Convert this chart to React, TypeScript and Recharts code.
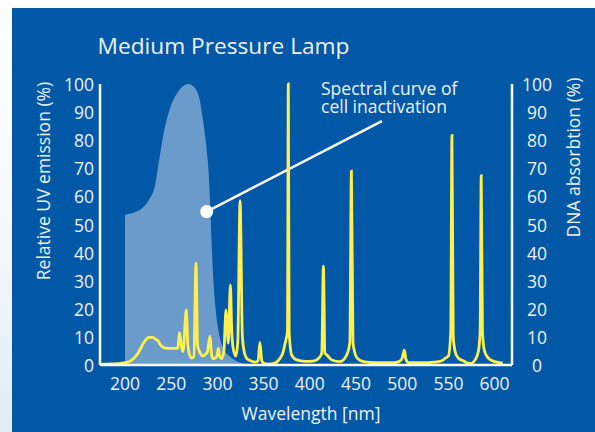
import {
  Area,
  ComposedChart,
  Line,
  ReferenceDot,
  ReferenceLine,
  XAxis,
  YAxis,
} from "recharts";

const BLUE = "#0058a7";
const AREA_BLUE = "#6a9bca";
const YELLOW = "#fff050";
const TEXT = "#eef2f9";
const FONT = "'Open Sans', 'Noto Sans', sans-serif";

const X_TICKS = [200, 250, 300, 350, 400, 450, 500, 550, 600];
const Y_TICKS = [0, 10, 20, 30, 40, 50, 60, 70, 80, 90, 100];

// spectral curve of cell inactivation (light area), wavelength nm
const inactivationNm = [
  200, 205, 210, 215, 220, 224, 227, 232.5, 236, 241.4, 248.6, 256, 262, 268.5,
  275, 281.2, 284, 286.6, 288.5, 290.2, 292, 293.5, 295.5, 298, 301, 304, 307,
  313.6, 320, 328, 335,
];
const inactivationPct = [
  53.4, 53.8, 54.3, 55, 56.2, 57.8, 59.4, 64, 71, 81.8, 91.3, 96.5, 99, 100,
  98.8, 93.7, 88, 81.8, 76, 70, 58, 45, 31, 20, 12.5, 8, 5.5, 3, 1.5, 0.5, 0,
];

// medium pressure lamp emission (yellow line)
const emissionNm = [
  173, 185, 195, 203, 209, 214, 221, 226, 230, 234, 236, 238, 244, 250, 257,
  259, 261, 262.8, 266.3, 268, 270, 272, 274.5, 276.8, 278.5, 281, 284.4, 287,
  289, 292, 293.5, 295, 298, 300, 301, 302.5, 304.5, 307, 309.3, 310.5, 311.8,
  314, 315.5, 317, 319.8, 322, 324.5, 327, 329.5, 332, 336, 341, 344, 346, 348,
  350, 355, 361.6, 367.8, 371, 373.2, 375.8, 376.7, 377.6, 380.3, 385.7, 395,
  405, 410, 412.9, 414.7, 416.3, 418.3, 423.7, 432.7, 440, 443.3, 445, 446.7,
  449, 452, 458, 470, 490, 497, 500, 502.3, 504, 507, 520, 535, 543, 547, 550,
  552.5, 553.8, 555.2, 557.5, 560.7, 566, 571, 575, 578.8, 582.5, 584.3, 585.5,
  586.8, 589, 593, 600, 608.8,
];
const emissionPct = [
  0.3, 0.4, 0.6, 1, 2.2, 4.2, 8.3, 9.8, 9.8, 9, 8.6, 7.3, 6, 5.9, 5.9, 11.5,
  6.5, 4.8, 19.6, 7, 3.5, 2.5, 3, 36.2, 7, 4.5, 3.2, 3.8, 4.5, 10.3, 4, 2.3,
  2.5, 4, 5.9, 3, 2.3, 5, 19.6, 14, 7.8, 28.5, 12, 6, 3.2, 8, 58.5, 10, 4, 2.2,
  1.5, 1, 1.5, 8, 1.5, 0.6, 0.3, 0.6, 2.4, 4.5, 7.7, 12, 100, 12, 3.6, 1.8, 1.3,
  1.5, 2.5, 4.2, 35.2, 4.2, 3.6, 1.8, 1.2, 3.6, 8, 69, 8, 4, 2.2, 1.2, 0.8,
  0.8, 1.3, 2.5, 5.3, 2, 0.8, 0.8, 1, 1.5, 2.5, 3.2, 12, 81.7, 10, 4.5, 2.5,
  1.5, 0.7, 0.6, 1.8, 5, 12, 67.4, 12, 5, 2.5, 1.2, 0.7,
];

const areaData = inactivationNm.map((nm, i) => ({ nm, v: inactivationPct[i] }));
const lineData = emissionNm.map((nm, i) => ({ nm, v: emissionPct[i] }));

function LeftTick(props: any) {
  const { x, y, payload } = props;
  return (
    <text x={x - 6} y={y + 7} textAnchor="end" fill={TEXT} fontSize={17.5} fontFamily={FONT}>
      {payload.value}
    </text>
  );
}

function RightTick(props: any) {
  const { x, y, payload } = props;
  return (
    <text x={x + 25} y={y + 7} textAnchor="middle" fill={TEXT} fontSize={17.5} fontFamily={FONT}>
      {payload.value}
    </text>
  );
}

function BottomTick(props: any) {
  const { x, y, payload } = props;
  return (
    <text x={x} y={y + 25} textAnchor="middle" fill={TEXT} fontSize={17.5} fontFamily={FONT}>
      {payload.value}
    </text>
  );
}

export default function App() {
  return (
    <div
      style={{
        position: "fixed",
        left: 0,
        top: 0,
        width: 595,
        height: 432,
        overflow: "hidden",
        background: "linear-gradient(180deg, #ffffff 0%, #f3f6fb 60%, #e3ebf5 100%)",
      }}
    >
      <div
        style={{
          position: "absolute",
          left: 12,
          top: 8,
          width: 583,
          height: 424,
          background: BLUE,
        }}
      />
      <div style={{ position: "absolute", left: 0, top: 0 }}>
        <ComposedChart
          width={595}
          height={432}
          margin={{ top: 84, right: 43, bottom: 37, left: 60 }}
        >
          <XAxis
            dataKey="nm"
            type="number"
            domain={[172.9, 618.8]}
            ticks={X_TICKS}
            allowDataOverflow
            height={30}
            tickSize={0}
            tickMargin={0}
            tickLine={false}
            axisLine={{ stroke: "#ffffff", strokeWidth: 2.5 }}
            tick={<BottomTick />}
          />
          <YAxis
            yAxisId="left"
            type="number"
            domain={[0, 100]}
            ticks={Y_TICKS}
            width={40}
            tickSize={0}
            tickMargin={0}
            tickLine={false}
            axisLine={{ stroke: "#ffffff", strokeWidth: 2.5 }}
            tick={<LeftTick />}
          />
          <YAxis
            yAxisId="right"
            orientation="right"
            type="number"
            domain={[0, 100]}
            ticks={Y_TICKS}
            width={40}
            tickSize={0}
            tickMargin={0}
            tickLine={false}
            axisLine={{ stroke: "#ffffff", strokeWidth: 2.5 }}
            tick={<RightTick />}
          />
          <Area
            yAxisId="right"
            data={areaData}
            dataKey="v"
            type="monotone"
            fill={AREA_BLUE}
            fillOpacity={1}
            stroke="none"
            isAnimationActive={false}
          />
          <ReferenceLine
            yAxisId="left"
            segment={[
              { x: 288.4, y: 54.6 },
              { x: 478, y: 86.8 },
            ]}
            stroke="#ffffff"
            strokeWidth={2.5}
          />
          <ReferenceDot
            yAxisId="left"
            x={288.4}
            y={54.6}
            r={6.5}
            fill="#ffffff"
            stroke="none"
          />
          <Line
            yAxisId="left"
            data={lineData}
            dataKey="v"
            type="monotone"
            stroke={YELLOW}
            strokeWidth={2.8}
            dot={false}
            isAnimationActive={false}
          />
        </ComposedChart>
      </div>
      <svg
        width={595}
        height={432}
        style={{ position: "absolute", left: 0, top: 0, pointerEvents: "none" }}
        fontFamily={FONT}
        fill={TEXT}
      >
        <text x={97.5} y={54} fontSize={22.7}>
          Medium Pressure Lamp
        </text>
        <text x={321} y={95} fontSize={17.5}>
          Spectral curve of
        </text>
        <text x={321} y={112.7} fontSize={17.5}>
          cell inactivation
        </text>
        <text transform="translate(50,181) rotate(-90)" textAnchor="middle" fontSize={17.5}>
          Relative UV emission (%)
        </text>
        <text transform="translate(580,157.5) rotate(-90)" textAnchor="middle" fontSize={17.5}>
          DNA absorbtion (%)
        </text>
        <text x={311} y={420} textAnchor="middle" fontSize={17.5}>
          Wavelength [nm]
        </text>
      </svg>
    </div>
  );
}
